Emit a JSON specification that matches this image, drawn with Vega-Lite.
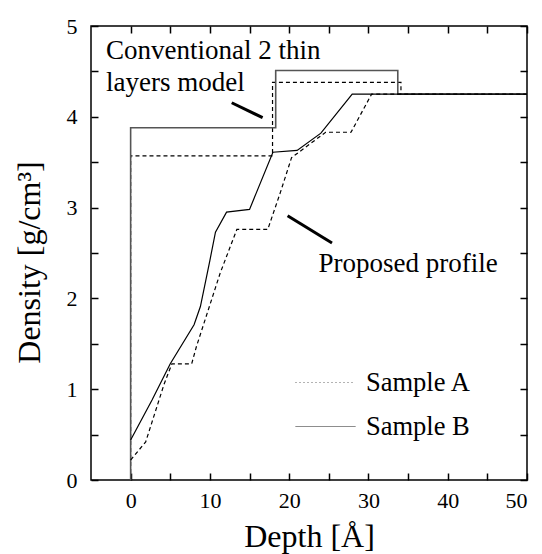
{
  "$schema": "https://vega.github.io/schema/vega-lite/v6.json",
  "autosize": {"type": "none"},
  "padding": {"left": 91, "top": 26, "right": 15, "bottom": 74},
  "width": 436,
  "height": 454,
  "background": "#ffffff",
  "datasets": {
    "lines": [
      {"curve": "conventional", "sample": "Sample A", "o": 1, "depth": 0, "density": 0},
      {"curve": "conventional", "sample": "Sample A", "o": 2, "depth": 0, "density": 3.57},
      {"curve": "conventional", "sample": "Sample A", "o": 3, "depth": 17.9, "density": 3.57},
      {"curve": "conventional", "sample": "Sample A", "o": 4, "depth": 17.9, "density": 4.38},
      {"curve": "conventional", "sample": "Sample A", "o": 5, "depth": 34.1, "density": 4.38},
      {"curve": "conventional", "sample": "Sample A", "o": 6, "depth": 34.1, "density": 4.25},
      {"curve": "conventional", "sample": "Sample B", "o": 1, "depth": 0, "density": 0},
      {"curve": "conventional", "sample": "Sample B", "o": 2, "depth": 0, "density": 3.88},
      {"curve": "conventional", "sample": "Sample B", "o": 3, "depth": 18.3, "density": 3.88},
      {"curve": "conventional", "sample": "Sample B", "o": 4, "depth": 18.3, "density": 4.51},
      {"curve": "conventional", "sample": "Sample B", "o": 5, "depth": 33.7, "density": 4.51},
      {"curve": "conventional", "sample": "Sample B", "o": 6, "depth": 33.7, "density": 4.25},
      {"curve": "conventional", "sample": "Sample B", "o": 7, "depth": 50, "density": 4.25},
      {"curve": "proposed", "sample": "Sample A", "o": 1, "depth": 0, "density": 0.22},
      {"curve": "proposed", "sample": "Sample A", "o": 2, "depth": 1.9, "density": 0.42},
      {"curve": "proposed", "sample": "Sample A", "o": 3, "depth": 4.2, "density": 1.05},
      {"curve": "proposed", "sample": "Sample A", "o": 4, "depth": 5.2, "density": 1.28},
      {"curve": "proposed", "sample": "Sample A", "o": 5, "depth": 7.7, "density": 1.28},
      {"curve": "proposed", "sample": "Sample A", "o": 6, "depth": 8.3, "density": 1.47},
      {"curve": "proposed", "sample": "Sample A", "o": 7, "depth": 11.3, "density": 2.28},
      {"curve": "proposed", "sample": "Sample A", "o": 8, "depth": 13.4, "density": 2.76},
      {"curve": "proposed", "sample": "Sample A", "o": 9, "depth": 17.3, "density": 2.76},
      {"curve": "proposed", "sample": "Sample A", "o": 10, "depth": 18.9, "density": 3.17},
      {"curve": "proposed", "sample": "Sample A", "o": 11, "depth": 20.3, "density": 3.55},
      {"curve": "proposed", "sample": "Sample A", "o": 12, "depth": 24.6, "density": 3.83},
      {"curve": "proposed", "sample": "Sample A", "o": 13, "depth": 27.8, "density": 3.83},
      {"curve": "proposed", "sample": "Sample A", "o": 14, "depth": 30.4, "density": 4.25},
      {"curve": "proposed", "sample": "Sample A", "o": 15, "depth": 50, "density": 4.25},
      {"curve": "proposed", "sample": "Sample B", "o": 1, "depth": 0, "density": 0.44},
      {"curve": "proposed", "sample": "Sample B", "o": 2, "depth": 2.7, "density": 0.88},
      {"curve": "proposed", "sample": "Sample B", "o": 3, "depth": 5.0, "density": 1.28},
      {"curve": "proposed", "sample": "Sample B", "o": 4, "depth": 8.0, "density": 1.71},
      {"curve": "proposed", "sample": "Sample B", "o": 5, "depth": 8.8, "density": 1.91},
      {"curve": "proposed", "sample": "Sample B", "o": 6, "depth": 10.0, "density": 2.42},
      {"curve": "proposed", "sample": "Sample B", "o": 7, "depth": 10.7, "density": 2.73},
      {"curve": "proposed", "sample": "Sample B", "o": 8, "depth": 12.1, "density": 2.95},
      {"curve": "proposed", "sample": "Sample B", "o": 9, "depth": 15.0, "density": 2.98},
      {"curve": "proposed", "sample": "Sample B", "o": 10, "depth": 17.95, "density": 3.61},
      {"curve": "proposed", "sample": "Sample B", "o": 11, "depth": 21.0, "density": 3.63},
      {"curve": "proposed", "sample": "Sample B", "o": 12, "depth": 24.0, "density": 3.82},
      {"curve": "proposed", "sample": "Sample B", "o": 13, "depth": 27.95, "density": 4.25},
      {"curve": "proposed", "sample": "Sample B", "o": 14, "depth": 50, "density": 4.25}
    ],
    "notes": [
      {"label": "Conventional 2 thin", "depth": -3.1, "density": 4.64},
      {"label": "layers model", "depth": -3.1, "density": 4.28},
      {"label": "Proposed profile", "depth": 23.7, "density": 2.29}
    ],
    "arrows": [
      {"depth": 12.75, "density": 4.155, "depth2": 16.65, "density2": 3.99},
      {"depth": 19.8, "density": 2.91, "depth2": 25.4, "density2": 2.61}
    ]
  },
  "layer": [
    {
      "data": {"name": "lines"},
      "transform": [{"filter": "datum.curve === 'conventional' && datum.sample === 'Sample A'"}],
      "mark": {"type": "line", "strokeWidth": 1.2, "strokeDash": [4, 3], "color": "#000000", "clip": true},
      "encoding": {
        "x": {
          "field": "depth", "type": "quantitative",
          "scale": {"domain": [-5, 50], "nice": false, "zero": false},
          "axis": {
            "orient": "bottom",
            "title": "Depth [Å]",
            "values": [0, 5, 10, 15, 20, 25, 30, 35, 40, 45, 50],
            "labelExpr": "datum.value % 10 === 0 ? format(datum.value, 'd') : ''",
            "tickSize": -7,
            "labelPadding": 17,
            "titlePadding": 10
          }
        },
        "y": {
          "field": "density", "type": "quantitative",
          "scale": {"domain": [0, 5], "nice": false},
          "axis": {
            "orient": "left",
            "title": "Density [g/cm³]",
            "values": [0, 0.5, 1, 1.5, 2, 2.5, 3, 3.5, 4, 4.5, 5],
            "labelExpr": "datum.value % 1 === 0 ? format(datum.value, 'd') : ''",
            "tickSize": -7,
            "labelPadding": 21,
            "titlePadding": 20,
            "titleY": 236
          }
        },
        "order": {"field": "o", "type": "quantitative"}
      }
    },
    {
      "data": {"name": "lines"},
      "transform": [{"filter": "datum.curve === 'conventional' && datum.sample === 'Sample B'"}],
      "mark": {"type": "line", "strokeWidth": 1.6, "color": "#555555", "clip": true},
      "encoding": {
        "x": {"field": "depth", "type": "quantitative", "axis": null},
        "y": {"field": "density", "type": "quantitative", "axis": null},
        "order": {"field": "o", "type": "quantitative"}
      }
    },
    {
      "data": {"name": "lines"},
      "transform": [{"filter": "datum.curve === 'proposed' && datum.sample === 'Sample A'"}],
      "mark": {"type": "line", "strokeWidth": 1.2, "strokeDash": [4, 3], "color": "#000000", "clip": true},
      "encoding": {
        "x": {"field": "depth", "type": "quantitative", "axis": null},
        "y": {"field": "density", "type": "quantitative", "axis": null},
        "order": {"field": "o", "type": "quantitative"}
      }
    },
    {
      "data": {"name": "lines"},
      "transform": [{"filter": "datum.curve === 'proposed' && datum.sample === 'Sample B'"}],
      "mark": {"type": "line", "strokeWidth": 1.2, "color": "#000000", "clip": true},
      "encoding": {
        "x": {"field": "depth", "type": "quantitative", "axis": null},
        "y": {"field": "density", "type": "quantitative", "axis": null},
        "order": {"field": "o", "type": "quantitative"}
      }
    },
    {
      "data": {"name": "lines"},
      "transform": [{"filter": "false"}],
      "mark": {"type": "line", "strokeWidth": 1, "color": "#666666"},
      "encoding": {
        "x": {"field": "depth", "type": "quantitative", "axis": null},
        "y": {"field": "density", "type": "quantitative", "axis": null},
        "strokeDash": {
          "field": "sample", "type": "nominal",
          "scale": {"domain": ["Sample A", "Sample B"], "range": [[1, 3], [1, 0]]},
          "legend": {
            "orient": "none", "legendX": 204, "legendY": 326, "title": null,
            "symbolType": "stroke", "symbolSize": 3600, "symbolStrokeWidth": 1,
            "symbolStrokeColor": "#666666", "labelFont": "Liberation Serif",
            "labelFontSize": 26.5, "labelColor": "#000000", "labelOffset": 10,
            "rowPadding": -2, "padding": 0
          }
        }
      }
    },
    {
      "data": {"name": "arrows"},
      "mark": {"type": "rule", "strokeWidth": 3, "color": "#000000"},
      "encoding": {
        "x": {"field": "depth", "type": "quantitative", "axis": null},
        "y": {"field": "density", "type": "quantitative", "axis": null},
        "x2": {"field": "depth2"},
        "y2": {"field": "density2"}
      }
    },
    {
      "data": {"name": "notes"},
      "mark": {"type": "text", "align": "left", "baseline": "alphabetic", "font": "Liberation Serif", "fontSize": 27, "color": "#000000"},
      "encoding": {
        "x": {"field": "depth", "type": "quantitative", "axis": null},
        "y": {"field": "density", "type": "quantitative", "axis": null},
        "text": {"field": "label"}
      }
    },
    {
      "data": {"name": "notes"},
      "mark": {"type": "point", "opacity": 0},
      "encoding": {
        "x": {
          "field": "depth", "type": "quantitative",
          "axis": {
            "orient": "top", "labels": false, "title": null,
            "values": [0, 5, 10, 15, 20, 25, 30, 35, 40, 45, 50],
            "tickSize": -7
          }
        },
        "y": {
          "field": "density", "type": "quantitative",
          "axis": {
            "orient": "right", "labels": false, "title": null,
            "values": [0, 0.5, 1, 1.5, 2, 2.5, 3, 3.5, 4, 4.5, 5],
            "tickSize": -7
          }
        }
      }
    }
  ],
  "resolve": {"axis": {"x": "independent", "y": "independent"}},
  "config": {
    "view": {"stroke": "#000000", "strokeWidth": 1.5},
    "axis": {
      "domain": false, "grid": false,
      "labelFont": "Liberation Serif", "labelFontSize": 22, "labelColor": "#000000",
      "titleFont": "Liberation Serif", "titleFontSize": 32, "titleFontWeight": "normal", "titleColor": "#000000",
      "tickColor": "#000000", "tickWidth": 1.5
    }
  }
}
